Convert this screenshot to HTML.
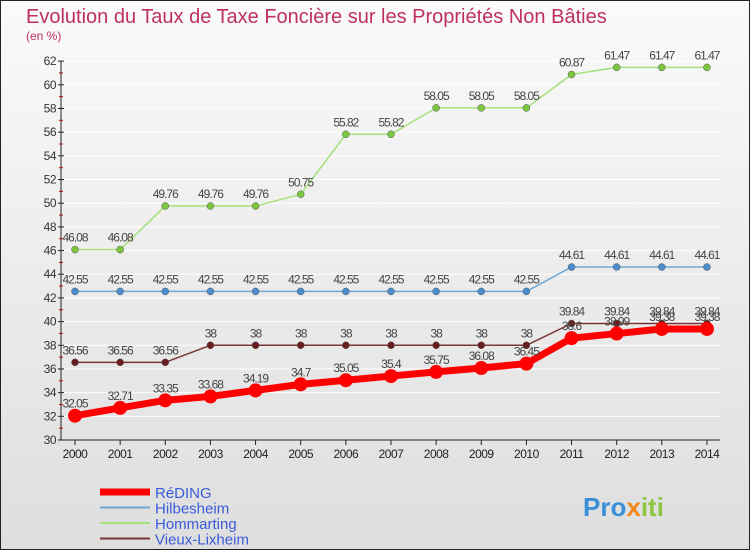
<!DOCTYPE html>
<html><head><meta charset="utf-8"><style>
body{margin:0;width:750px;height:550px;overflow:hidden;font-family:"Liberation Sans",sans-serif}
svg{display:block}
</style></head><body>
<svg width="750" height="550">
<defs><linearGradient id="bg" x1="0" y1="0" x2="0" y2="1"><stop offset="0" stop-color="#fafafa"/><stop offset="1" stop-color="#dedede"/></linearGradient></defs>
<rect x="0.5" y="0.5" width="749" height="549" fill="url(#bg)" stroke="#222"/>
<text x="26" y="23" font-size="20" fill="#c0305f">Evolution du Taux de Taxe Foncière sur les Propriétés Non Bâties</text>
<text x="26" y="40" font-size="12" fill="#c0305f">(en %)</text>
<g id="grid"></g><g id="axes"></g><g id="series"></g><g id="legend"></g>
<text x="583" y="516" font-size="26" font-weight="bold" fill="#3a8fd8">Pro<tspan fill="#f08a1c">x</tspan><tspan fill="#8bc63e">iti</tspan></text>
</svg>
<script>
const years=[2000,2001,2002,2003,2004,2005,2006,2007,2008,2009,2010,2011,2012,2013,2014];
const reding=[32.05,32.71,33.35,33.68,34.19,34.7,35.05,35.4,35.75,36.08,36.45,38.6,38.99,39.38,39.38];
const hilbesheim=[42.55,42.55,42.55,42.55,42.55,42.55,42.55,42.55,42.55,42.55,42.55,44.61,44.61,44.61,44.61];
const hommarting=[46.08,46.08,49.76,49.76,49.76,50.75,55.82,55.82,58.05,58.05,58.05,60.87,61.47,61.47,61.47];
const vieux=[36.56,36.56,36.56,38,38,38,38,38,38,38,38,39.84,39.84,39.84,39.84];
const yTicks=[30,32,34,36,38,40,42,44,46,48,50,52,54,56,58,60,62];
const NS="http://www.w3.org/2000/svg";
const X=i=>75+i*45.14, Y=v=>440-(v-30)*11.84;
function mk(t,a,p){const e=document.createElementNS(NS,t);for(const k in a)e.setAttribute(k,a[k]);p.appendChild(e);return e;}
const grid=document.getElementById('grid'),axes=document.getElementById('axes'),ser=document.getElementById('series'),leg=document.getElementById('legend');
yTicks.forEach(t=>{
 const g=mk('line',{x1:61,x2:720,y1:Y(t),y2:Y(t),stroke:'#fff','stroke-width':1},grid);
 
 
 const tk=mk('line',{x1:58,x2:64,y1:Y(t),y2:Y(t),stroke:'#222'},axes);
 
 
 if(t<62){const m=mk('line',{x1:59,x2:63,y1:Y(t+1),y2:Y(t+1),stroke:'#e00'},axes);
 
 }
 const l=mk('text',{x:56,y:Y(t)+4,'font-size':12,'text-anchor':'end',fill:'#333','letter-spacing':'-0.5'},axes);l.textContent=t;
 
 
});
const ax=mk('line',{x1:61,x2:61,y1:Y(62),y2:Y(30),stroke:'#222'},axes);


const bx=mk('line',{x1:61,x2:720,y1:Y(30),y2:Y(30),stroke:'#222'},axes);


years.forEach((y,i)=>{
 const t=mk('line',{x1:X(i),x2:X(i),y1:Y(30),y2:Y(30)+5,stroke:'#222'},axes);
 
 
 const l=mk('text',{x:X(i),y:Y(30)+18,'font-size':12,'text-anchor':'middle',fill:'#222','letter-spacing':'-0.5'},axes);l.textContent=y;
 
 
});
function series(name,vals,color,w,r,fill){
 const g=mk('g',{},ser);
 
 
 const p=mk('polyline',{points:vals.map((v,i)=>X(i)+','+Y(v)).join(' '),fill:'none',stroke:color,'stroke-width':w,'stroke-linejoin':'round'},g);
 
 
 vals.forEach((v,i)=>{
  const c=mk('circle',{cx:X(i),cy:Y(v),r:r,fill:fill,stroke:'#555','stroke-width':r>5?0:0.5},g);
  
  
  const l=mk('text',{x:X(i),y:Y(v)-8,'font-size':12,'text-anchor':'middle',fill:'#444','letter-spacing':'-1'},g);l.textContent=v;
  
  
 });
}
series('hommarting',hommarting,'#a5e07a',1.5,3.5,'#7cc73f');
series('hilbesheim',hilbesheim,'#6ea6d4',1.5,3.5,'#4a8ccc');
series('vieux-lixheim',vieux,'#7a3535',1.5,3.5,'#6b1c1c');
series('reding',reding,'#ff0000',7,7,'#ff0000');
const items=[['RéDING','#ff0000',7],['Hilbesheim','#6ea6d4',2],['Hommarting','#a5e07a',2],['Vieux-Lixheim','#7a3535',2]];
items.forEach((it,i)=>{
 const y=492+i*15.5;
 const g=mk('g',{},leg);
 
 
 mk('line',{x1:100,x2:150,y1:y,y2:y,stroke:it[1],'stroke-width':it[2]},g);
 const t=mk('text',{x:155,y:y+6,'font-size':15,fill:'#3a5cd8'},g);t.textContent=it[0];
});
</script>
</body></html>
